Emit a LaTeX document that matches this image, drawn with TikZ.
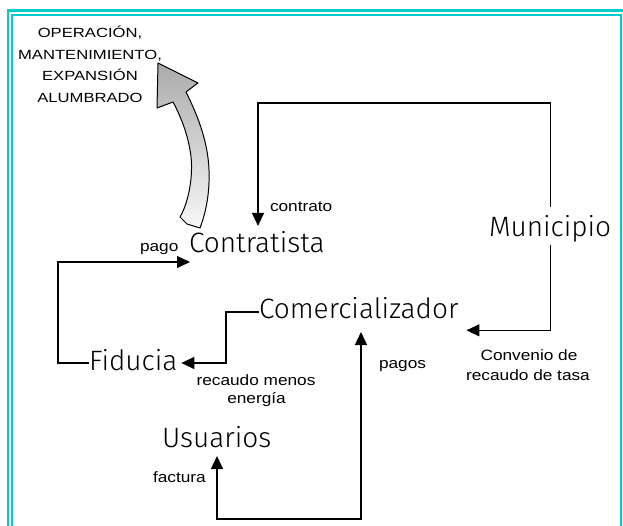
\documentclass[tikz,border=0pt]{standalone}
\usepackage{fontspec}
\setmainfont{Liberation Sans}
\newfontfamily\thinfont{Fira Sans Light}
\newfontfamily\capsfont{Liberation Sans}[FakeStretch=1.25]
\newfontfamily\lblfont{Liberation Sans}[FakeStretch=1.15]
\usetikzlibrary{arrows.meta}
\definecolor{framecyan}{RGB}{0,204,204}
\begin{document}
\begin{tikzpicture}[x=1pt,y=-1pt,
  big/.style={font=\thinfont\fontsize{28}{30}\selectfont, inner sep=0pt, outer sep=0pt, anchor=base west},
  lbl/.style={font=\lblfont\fontsize{15}{18}\selectfont, inner sep=0pt, outer sep=0pt},
  capslbl/.style={font=\capsfont\fontsize{13.3}{21.5}\selectfont, inner sep=0pt, outer sep=0pt, align=center},
  conn/.style={draw=black, line width=1.2pt, -{Triangle[length=13pt,width=12pt]}},
  conntwo/.style={draw=black, line width=1.2pt, {Triangle[length=13pt,width=12pt]}-{Triangle[length=13pt,width=12pt]}},
  frameout/.style={draw=framecyan, line width=2.5pt},
  framein/.style={draw=framecyan, line width=2pt}
]
\useasboundingbox (0,0) rectangle (623,526);
% frame
\draw[frameout] (8,540) -- (8,10.5) -- (625,10.5);
\draw[framein] (12,540) -- (12,15) -- (620.5,15) -- (620.5,540);

% curved shaded arrow
\shade[top color=black!33, bottom color=black!3, draw=black, line width=1pt, line join=round]
  (158,63) -- (198,83) -- (186,92)
  .. controls (196,112) and (208,140) .. (209,170)
  .. controls (210,195) and (205,215) .. (200,228)
  -- (187,224) -- (180,217)
  .. controls (190,200) and (194,170) .. (190,150)
  .. controls (187,132) and (180,115) .. (173,102)
  -- (157,108) -- cycle;

% main nodes
\node[big] (contratista) at (189,253) {Contratista};
\node[big] (municipio) at (489,237) {Municipio};
\node[big] (comer) at (259,318) {Comercializador};
\node[big] (fiducia) at (89,370) {Fiducia};
\node[big] (usuarios) at (162,447) {Usuarios};

% labels
\node[capslbl, anchor=north] (oper) at (90,26) {OPERACIÓN,\\MANTENIMIENTO,\\EXPANSIÓN\\ALUMBRADO};
\node[lbl, anchor=base west] (lcontrato) at (270,211.5) {contrato};
\node[lbl, anchor=base west] (lpago) at (140,252) {pago};
\node[lbl, anchor=base west] (lpagos) at (379,368) {pagos};
\node[lbl, anchor=base] (lconv) at (529,360) {Convenio de};
\node[lbl, anchor=base] (lconv2) at (528,380) {recaudo de tasa};
\node[lbl, anchor=base] (lrec) at (256,385) {recaudo menos};
\node[lbl, anchor=base] (lrec2) at (256.5,403) {energía};
\node[lbl, anchor=base west] (lfact) at (153,482) {factura};

% connectors
\draw[conn] ([yshift=9pt]municipio.north) -- ++(0,-104) -| ([xshift=69pt,yshift=6pt]contratista.north west);
\draw[conn] ([yshift=-2pt]municipio.south) |- ([xshift=8pt,yshift=-12pt]comer.south east);
\draw[conn] ([yshift=7pt]fiducia.base west) -- ++(-31,0) |- ([xshift=1pt,yshift=-9pt]contratista.base west);
\draw[conn] ([yshift=6pt]comer.base west) -- ++(-33,0) |- ([xshift=4pt,yshift=7pt]fiducia.base east);
\draw[conntwo] ([xshift=55pt,yshift=-9pt]usuarios.base west) -- ++(0,63) -| ([xshift=102pt,yshift=-14pt]comer.base west);
\end{tikzpicture}
\end{document}
